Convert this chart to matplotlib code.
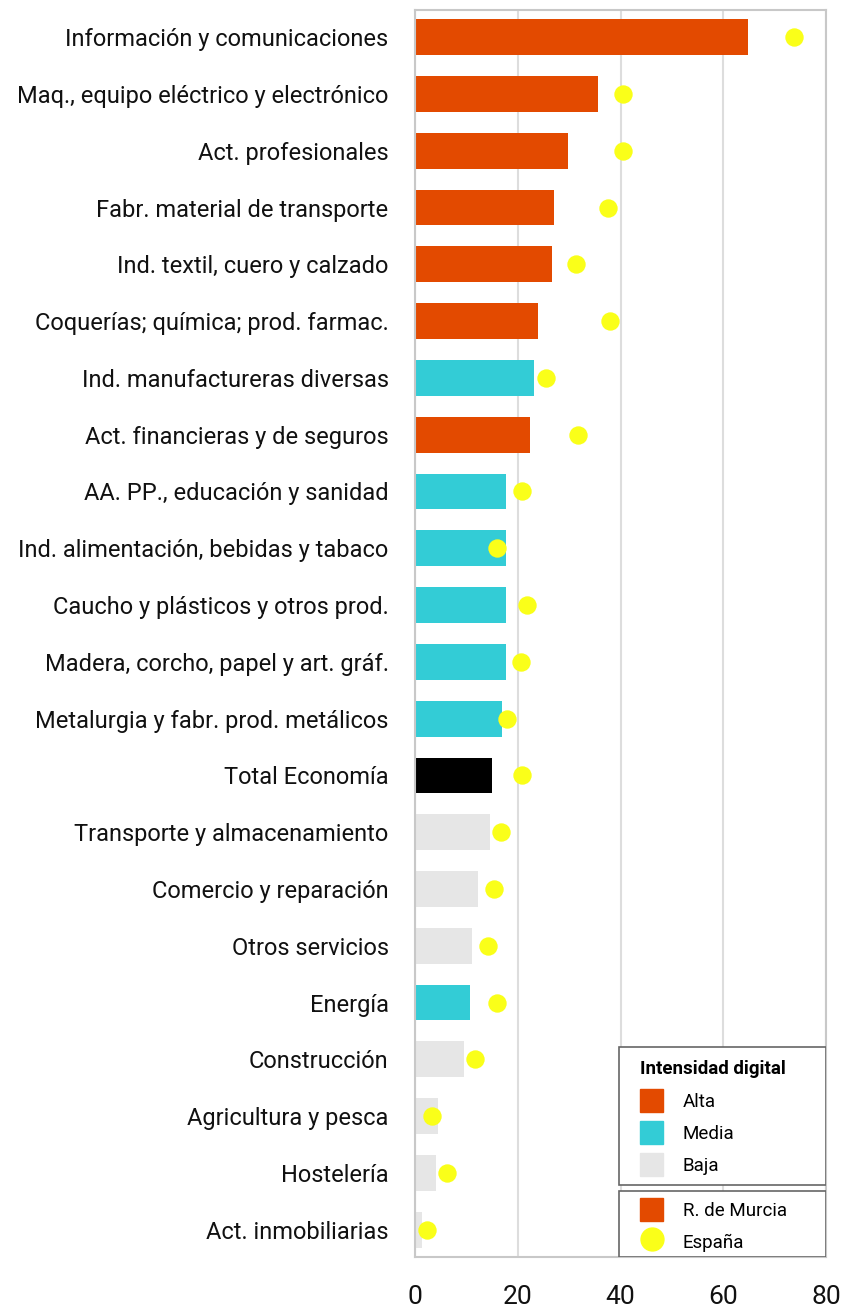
import matplotlib.pyplot as plt
from matplotlib.patches import Patch, Rectangle
from matplotlib.lines import Line2D

plt.rcParams['font.family'] = ['Roboto', 'DejaVu Sans']

# datos (de arriba a abajo)
sectores = [
    'Información y comunicaciones',
    'Maq., equipo eléctrico y electrónico',
    'Act. profesionales',
    'Fabr. material de transporte',
    'Ind. textil, cuero y calzado',
    'Coquerías; química; prod. farmac.',
    'Ind. manufactureras diversas',
    'Act. financieras y de seguros',
    'AA. PP., educación y sanidad',
    'Ind. alimentación, bebidas y tabaco',
    'Caucho y plásticos y otros prod.',
    'Madera, corcho, papel y art. gráf.',
    'Metalurgia y fabr. prod. metálicos',
    'Total Economía',
    'Transporte y almacenamiento',
    'Comercio y reparación',
    'Otros servicios',
    'Energía',
    'Construcción',
    'Agricultura y pesca',
    'Hostelería',
    'Act. inmobiliarias',
]
murcia = [64.8, 35.6, 29.8, 27.0, 26.7, 23.9, 23.2, 22.4, 17.7, 17.7, 17.7,
          17.7, 16.9, 15.0, 14.6, 12.3, 11.1, 10.7, 9.5, 4.5, 4.1, 1.4]
espana = [73.7, 40.5, 40.5, 37.5, 31.3, 37.9, 25.5, 31.7, 20.8, 16.0, 21.8,
          20.6, 17.9, 20.8, 16.7, 15.4, 14.2, 16.0, 11.7, 3.3, 6.2, 2.3]
intensidad = ['Alta', 'Alta', 'Alta', 'Alta', 'Alta', 'Alta', 'Media', 'Alta',
              'Media', 'Media', 'Media', 'Media', 'Media', 'Total', 'Baja',
              'Baja', 'Baja', 'Media', 'Baja', 'Baja', 'Baja', 'Baja']

colores = {'Alta': '#E34A00', 'Media': '#33CCD6', 'Baja': '#E6E6E6', 'Total': '#000000'}
AMARILLO = '#FAFF19'
W, H = 856, 1310

fig = plt.figure(figsize=(W / 100, H / 100), dpi=100)
ax = fig.add_axes([0.4848, 0.0405, 0.4802, 0.9519])

y = list(range(len(sectores)))
ax.barh(y, murcia, height=0.63, color=[colores[c] for c in intensidad], zorder=2)
ax.scatter(espana, y, s=175, color=AMARILLO, zorder=3, linewidths=0)

ax.set_xlim(0, 80)
ax.set_ylim(len(sectores) - 0.52, -0.48)
ax.set_xticks([0, 20, 40, 60, 80])
ax.set_yticks(y)
ax.set_yticklabels(sectores)
ax.tick_params(axis='x', length=0, pad=20, labelsize=19, labelcolor='#111111')
ax.tick_params(axis='y', length=0, pad=19, labelsize=17, labelcolor='#111111')
ax.grid(axis='x', color='#DDDDDD', linewidth=1.5, zorder=0)
for s in ax.spines.values():
    s.set_color('#C8C8C8')
    s.set_linewidth(1.5)

# marcos de las leyendas
for y0, alto in [(0.0577, 0.1107), (0.0, 0.053)]:
    ax.add_patch(Rectangle((0.496, y0), 0.504, alto, transform=ax.transAxes,
                           facecolor='white', edgecolor='#666666', linewidth=1.2,
                           zorder=4))

# leyendas
kw = dict(frameon=False, fontsize=13.5, handlelength=1.23, handleheight=1.51,
          handletextpad=1.05, labelspacing=0.48, borderpad=0, borderaxespad=0,
          loc='upper left', bbox_transform=fig.transFigure)
h1 = [Patch(color=colores['Alta']), Patch(color=colores['Media']), Patch(color=colores['Baja'])]
leg1 = ax.legend(h1, ['Alta', 'Media', 'Baja'], title='Intensidad digital',
                 bbox_to_anchor=(640 / W, 1 - 1060 / H),
                 title_fontproperties={'weight': 'bold', 'size': 13.5},
                 alignment='left', **kw)
leg1.set_zorder(5)
leg1._legend_box.sep = 8
ax.add_artist(leg1)

h2 = [Patch(color=colores['Alta']),
      Line2D([], [], marker='o', color=AMARILLO, linestyle='', markersize=16.5)]
leg2 = ax.legend(h2, ['R. de Murcia', 'España'],
                 bbox_to_anchor=(640 / W, 1 - 1198 / H), **kw)
leg2.set_zorder(5)

plt.savefig('out.png', dpi=100)
